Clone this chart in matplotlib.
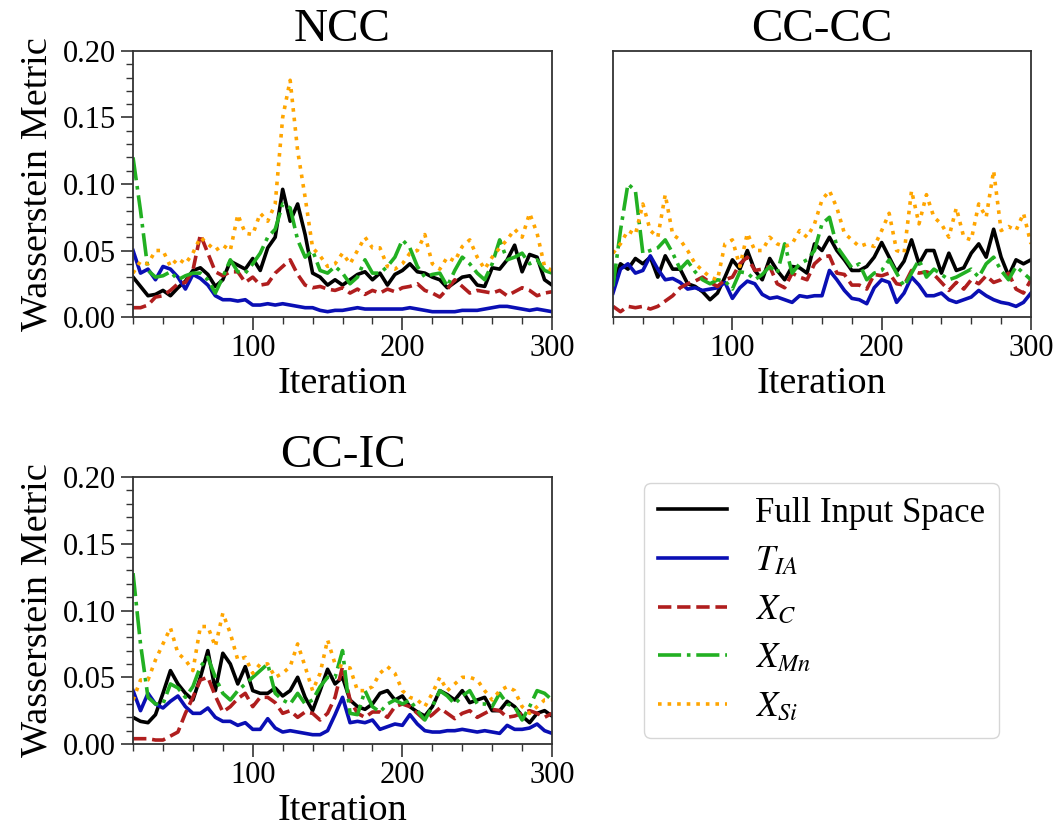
import matplotlib
matplotlib.use("Agg")
import matplotlib.pyplot as plt
from matplotlib.ticker import MultipleLocator, FormatStrFormatter

plt.rcParams['font.family'] = ['Liberation Serif', 'DejaVu Serif']
plt.rcParams['mathtext.fontset'] = 'stix'

# ---------------- data ----------------
iterations = list(range(20, 301, 5))

series_labels = ["Full Input Space", r"$T_{IA}$", r"$X_C$", r"$X_{Mn}$", r"$X_{Si}$"]
panel_titles = ["NCC", "CC-CC", "CC-IC"]

# NCC
ncc_full = [.030, .023, .016, .017, .020, .016, .022, .027, .035, .037,
            .032, .023, .028, .042, .039, .036, .044, .035, .052, .060,
            .096, .072, .085, .062, .033, .030, .024, .028, .024, .028,
            .032, .034, .028, .033, .024, .032, .035, .040, .034, .033,
            .030, .028, .022, .026, .030, .031, .024, .023, .037, .036,
            .043, .054, .034, .047, .045, .028, .024]
ncc_tia = [.050, .033, .036, .028, .038, .036, .030, .021, .032, .029,
           .024, .016, .013, .013, .012, .013, .009, .009, .010, .009,
           .010, .009, .008, .007, .007, .005, .004, .005, .005, .006,
           .007, .006, .006, .006, .006, .006, .006, .007, .006, .005,
           .004, .004, .004, .004, .005, .005, .005, .006, .007, .008,
           .008, .007, .006, .005, .006, .005, .004]
ncc_xc = [.007, .007, .009, .015, .016, .020, .025, .026, .035, .062,
          .048, .034, .031, .034, .034, .026, .030, .024, .025, .033,
          .038, .043, .032, .024, .022, .023, .021, .020, .022, .018,
          .021, .017, .020, .018, .021, .019, .022, .023, .025, .020,
          .018, .015, .021, .028, .023, .018, .020, .019, .018, .020,
          .016, .019, .022, .020, .016, .018, .019]
ncc_xmn = [.120, .080, .035, .030, .031, .034, .028, .031, .033, .033,
           .028, .018, .030, .043, .034, .033, .040, .048, .060, .066,
           .085, .082, .058, .045, .050, .035, .033, .038, .033, .025,
           .030, .043, .033, .033, .038, .045, .058, .052, .038, .030,
           .032, .033, .023, .035, .045, .040, .033, .028, .040, .058,
           .043, .045, .048, .040, .043, .035, .033]
ncc_xsi = [.033, .042, .040, .050, .050, .038, .044, .040, .048, .060,
           .055, .050, .054, .050, .077, .063, .062, .078, .072, .085,
           .150, .178, .125, .090, .052, .046, .038, .040, .048, .040,
           .050, .060, .052, .052, .038, .036, .040, .048, .050, .062,
           .040, .036, .045, .042, .053, .058, .045, .036, .045, .052,
           .058, .066, .060, .078, .063, .038, .035]

# CC-CC
cccc_full = [.026, .040, .036, .044, .040, .045, .030, .046, .036, .036,
             .025, .023, .019, .013, .018, .030, .043, .036, .050, .035,
             .028, .044, .035, .028, .038, .037, .033, .055, .050, .060,
             .050, .043, .035, .035, .038, .045, .056, .045, .034, .042,
             .058, .040, .050, .050, .033, .048, .035, .037, .048, .055,
             .045, .066, .045, .031, .043, .040, .043]
cccc_tia = [.018, .036, .040, .033, .035, .046, .036, .028, .029, .026,
            .021, .022, .020, .021, .022, .026, .014, .022, .027, .025,
            .017, .014, .015, .013, .011, .016, .015, .016, .016, .035,
            .028, .020, .014, .013, .010, .022, .028, .026, .011, .018,
            .030, .024, .016, .016, .018, .013, .011, .013, .015, .020,
            .016, .013, .011, .010, .008, .011, .018]
cccc_xc = [.008, .004, .008, .007, .008, .006, .008, .012, .016, .022,
           .025, .027, .030, .026, .023, .028, .030, .040, .045, .035,
           .036, .038, .025, .022, .033, .030, .028, .040, .045, .046,
           .033, .032, .024, .024, .021, .032, .031, .033, .025, .024,
           .035, .033, .034, .032, .026, .020, .026, .021, .028, .025,
           .031, .026, .028, .033, .021, .018, .028]
cccc_xmn = [.023, .065, .100, .095, .048, .050, .052, .058, .048, .036,
            .042, .034, .028, .025, .028, .027, .021, .034, .033, .028,
            .032, .038, .033, .055, .033, .040, .043, .050, .070, .075,
            .053, .045, .037, .040, .028, .033, .035, .043, .033, .023,
            .033, .043, .030, .036, .032, .028, .030, .033, .036, .030,
            .040, .045, .035, .028, .038, .033, .028]
cccc_xsi = [.048, .055, .065, .062, .085, .065, .060, .092, .062, .058,
            .050, .040, .035, .030, .028, .055, .058, .038, .063, .050,
            .050, .060, .055, .053, .055, .065, .060, .070, .088, .095,
            .082, .063, .058, .053, .055, .053, .065, .078, .050, .048,
            .095, .070, .092, .075, .070, .060, .082, .060, .058, .085,
            .075, .110, .065, .068, .065, .078, .055]

# CC-IC
ccic_full = [.020, .017, .016, .022, .038, .055, .045, .038, .033, .050,
             .070, .040, .068, .060, .045, .058, .040, .038, .038, .042,
             .036, .040, .050, .035, .025, .040, .056, .045, .050, .033,
             .028, .026, .030, .038, .040, .033, .036, .028, .024, .021,
             .028, .040, .037, .033, .040, .031, .033, .035, .025, .025,
             .032, .028, .021, .016, .023, .025, .021]
ccic_tia = [.040, .025, .038, .030, .027, .032, .036, .028, .023, .023,
            .027, .020, .017, .017, .014, .016, .011, .011, .019, .012,
            .009, .010, .009, .008, .007, .007, .010, .022, .035, .016,
            .017, .016, .018, .011, .013, .015, .014, .022, .015, .010,
            .009, .009, .010, .010, .011, .010, .009, .010, .009, .008,
            .014, .011, .011, .012, .015, .010, .008]
ccic_xc = [.004, .004, .004, .003, .003, .006, .009, .023, .035, .048,
           .050, .036, .024, .028, .034, .038, .028, .035, .035, .031,
           .023, .025, .020, .024, .023, .018, .023, .035, .058, .033,
           .023, .020, .024, .024, .020, .028, .030, .028, .023, .018,
           .022, .027, .023, .019, .023, .025, .020, .023, .026, .025,
           .020, .021, .023, .025, .023, .020, .023]
ccic_xmn = [.128, .075, .035, .030, .030, .045, .042, .035, .043, .058,
            .065, .050, .038, .033, .040, .045, .050, .055, .060, .038,
            .033, .030, .038, .030, .033, .043, .050, .050, .070, .023,
            .022, .040, .028, .024, .030, .033, .030, .033, .025, .018,
            .028, .040, .036, .030, .036, .040, .030, .030, .028, .038,
            .030, .028, .018, .028, .040, .038, .033]
ccic_xsi = [.033, .048, .048, .063, .075, .087, .068, .063, .055, .088,
            .088, .073, .098, .083, .063, .065, .053, .060, .060, .050,
            .053, .058, .075, .058, .040, .053, .078, .060, .058, .057,
            .040, .040, .043, .053, .058, .053, .040, .035, .033, .028,
            .038, .050, .040, .045, .050, .050, .048, .040, .033, .040,
            .043, .040, .028, .023, .028, .033, .033]

# ---------------- styling ----------------
colors = ["black", "#0a0fb4", "#b01e1e", "#22b022", "#ffa500"]
styles = ["-", "-", "--", "-.", ":"]
LW = 2.6

fig = plt.figure(figsize=(10.6, 8.36), dpi=100)
ax1 = fig.add_axes([0.1255, 0.6208, 0.3953, 0.3182])
ax2 = fig.add_axes([0.5783, 0.6208, 0.3943, 0.3182])
ax3 = fig.add_axes([0.1255, 0.1100, 0.3953, 0.3194])

panels = [
    (ax1, [ncc_full, ncc_tia, ncc_xc, ncc_xmn, ncc_xsi]),
    (ax2, [cccc_full, cccc_tia, cccc_xc, cccc_xmn, cccc_xsi]),
    (ax3, [ccic_full, ccic_tia, ccic_xc, ccic_xmn, ccic_xsi]),
]

handles = []
for i, (ax, data) in enumerate(panels):
    for j, ys in enumerate(data):
        ln, = ax.plot(iterations, ys, color=colors[j], linestyle=styles[j],
                      linewidth=LW, label=series_labels[j])
        if i == 0:
            handles.append(ln)
    ax.set_xlim(20, 300)
    ax.set_ylim(0, 0.2)
    ax.xaxis.set_major_locator(MultipleLocator(100))
    ax.xaxis.set_minor_locator(MultipleLocator(20))
    ax.yaxis.set_major_locator(MultipleLocator(0.05))
    ax.yaxis.set_minor_locator(MultipleLocator(0.01))
    ax.yaxis.set_major_formatter(FormatStrFormatter('%.2f'))
    ax.tick_params(which='major', direction='out', length=9, width=1.2,
                   labelsize=22, color='#333333')
    ax.tick_params(which='minor', direction='out', length=5, width=1.0,
                   color='#333333')
    for sp in ax.spines.values():
        sp.set_linewidth(1.3)
        sp.set_color('#333333')
    ax.set_title(panel_titles[i], fontsize=34, pad=6)
    ax.set_xlabel("Iteration", fontsize=27.5, labelpad=2)
    if i != 1:
        ax.set_ylabel("Wasserstein Metric", fontsize=27.5, labelpad=6)

ax2.tick_params(axis='y', which='both', left=False, labelleft=False)

fig.legend(handles, series_labels, loc='center', bbox_to_anchor=(0.775, 0.270),
           fontsize=25, frameon=True, fancybox=True, handlelength=2.0,
           labelspacing=0.45, borderpad=0.4)

fig.savefig("out.png", dpi=100)
